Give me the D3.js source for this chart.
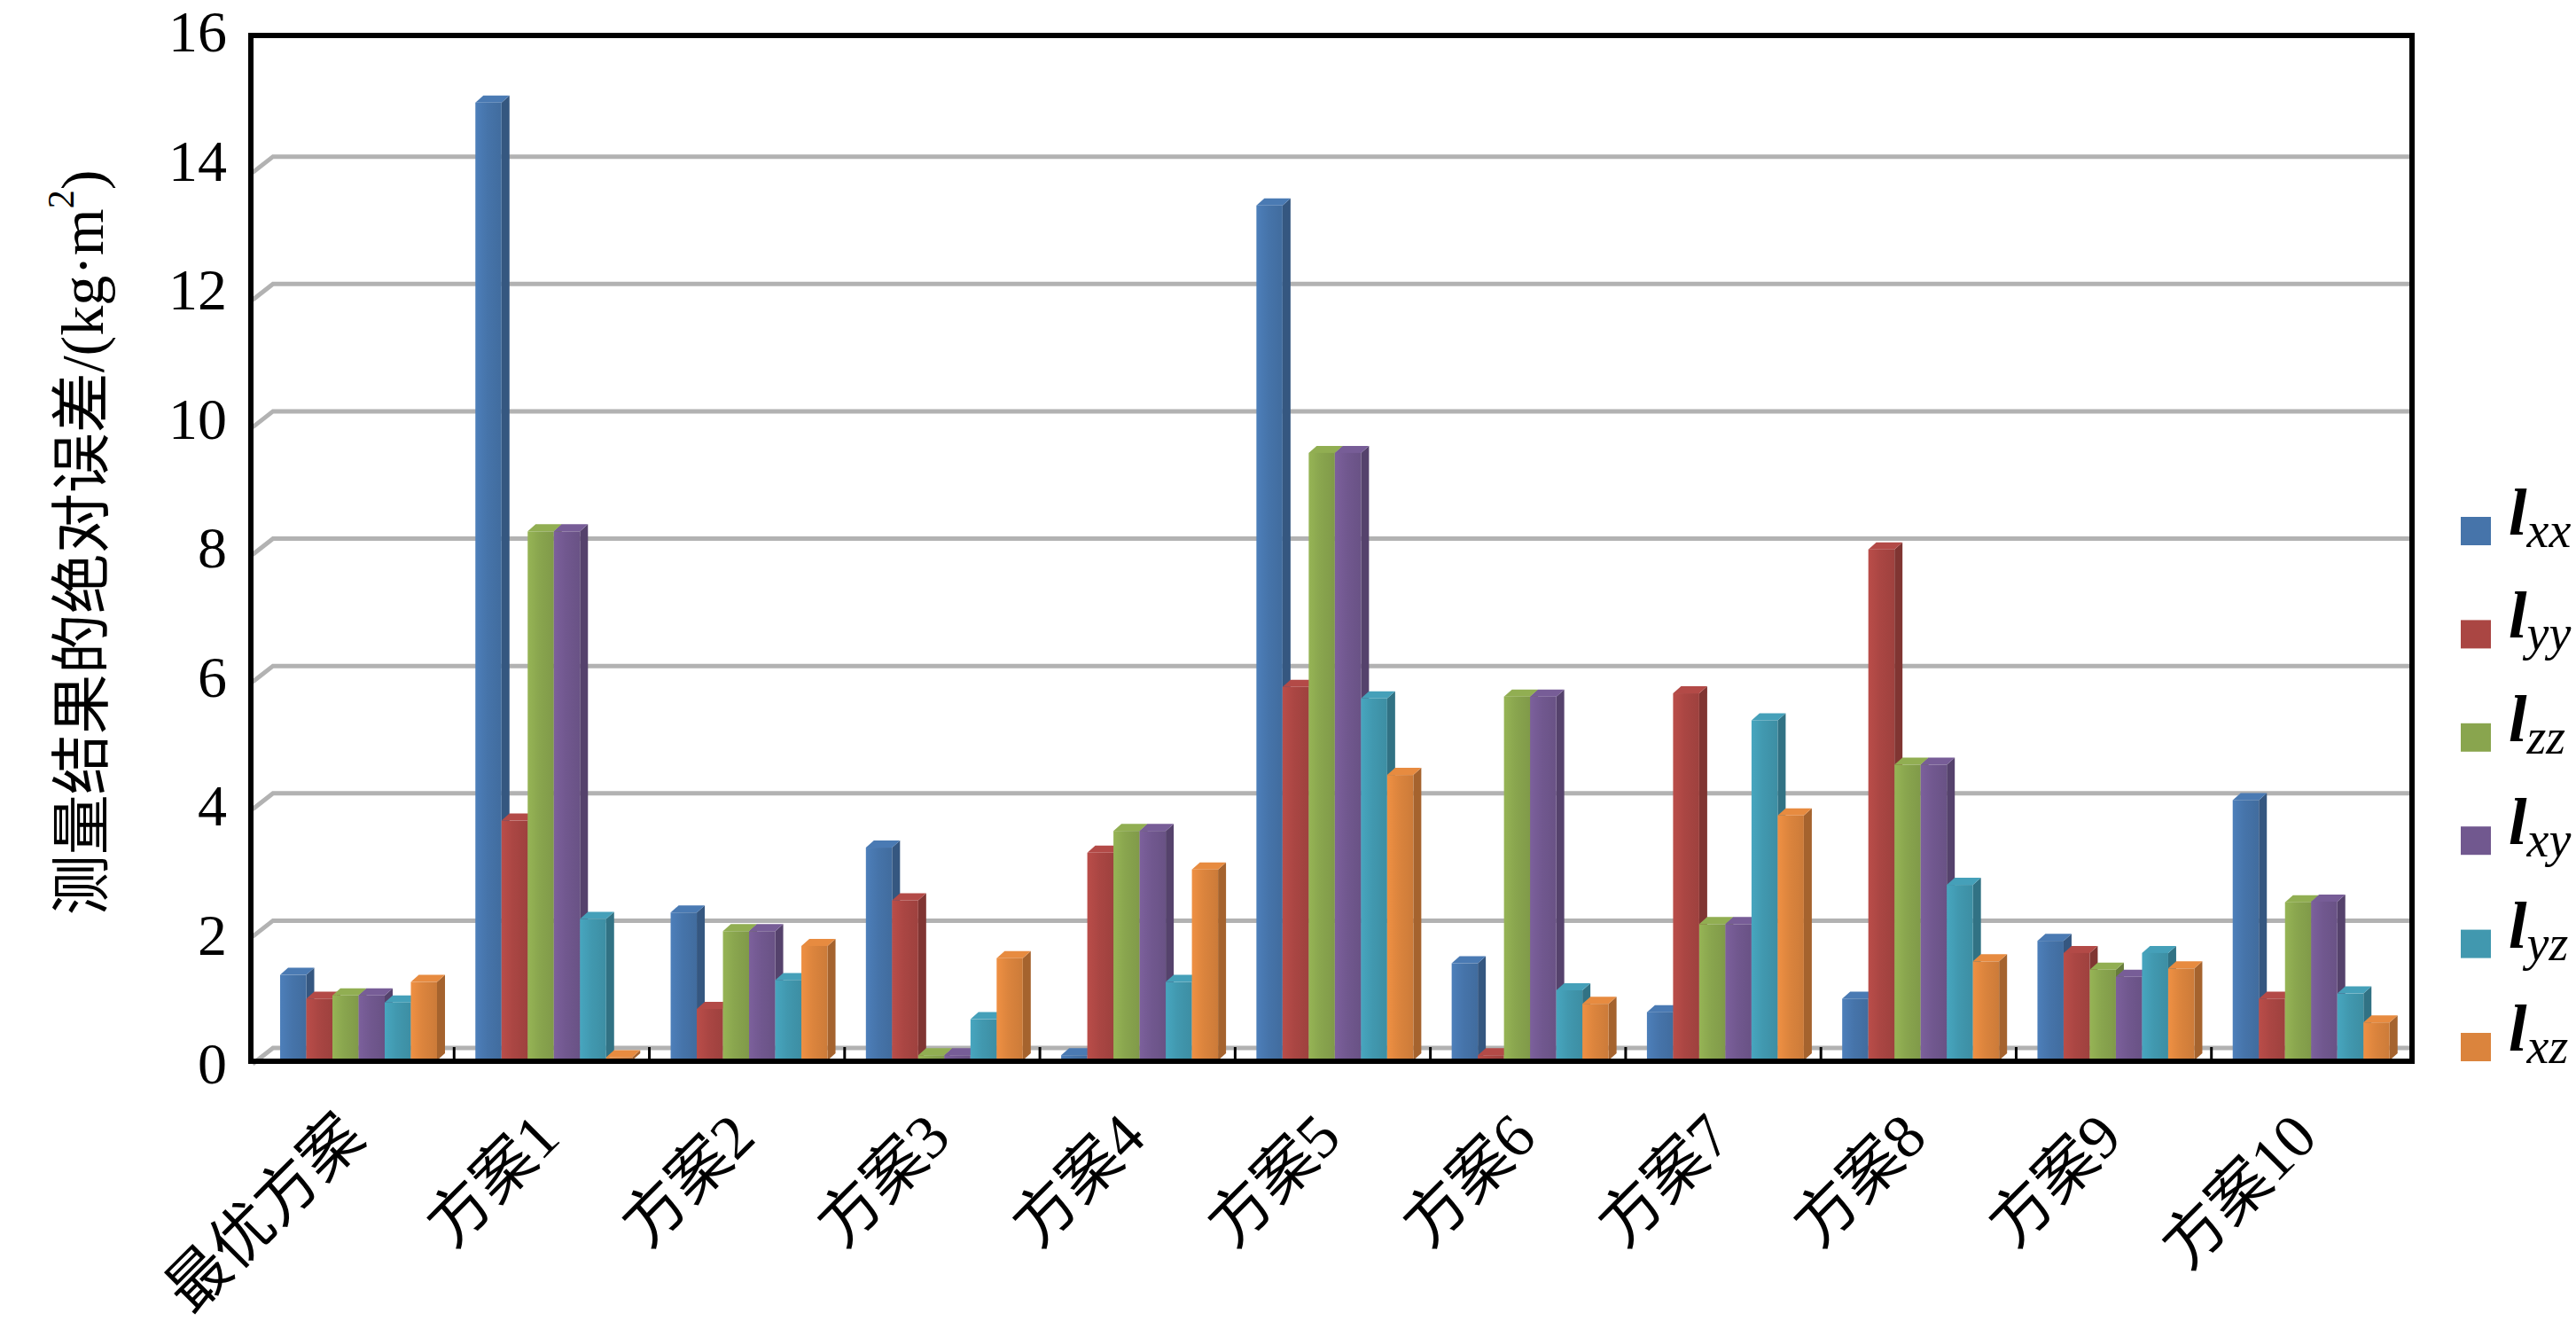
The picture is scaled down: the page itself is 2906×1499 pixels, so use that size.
<!DOCTYPE html>
<html>
<head>
<meta charset="utf-8">
<script src="https://cdn.jsdelivr.net/npm/d3@7"></script>
<style>
  body { margin: 0; background: #fff; }
  svg { display: block; }
</style>
</head>
<body>
<div id="chart"></div>
<script>
// categories and series
var categories = ["最优方案", "方案1", "方案2", "方案3", "方案4", "方案5", "方案6", "方案7", "方案8", "方案9", "方案10"];
var seriesKeys = ["xx", "yy", "zz", "xy", "yz", "xz"];

var lxx = [1.33, 14.9, 2.30, 3.31, 0.08, 13.3, 1.51, 0.75, 0.96, 1.86, 4.05];
var lyy = [0.96, 3.73, 0.80, 2.49, 3.23, 5.81, 0.08, 5.71, 7.95, 1.67, 0.96];
var lzz = [1.01, 8.23, 2.01, 0.08, 3.57, 9.45, 5.66, 2.12, 4.60, 1.41, 2.46];
var lxy = [1.01, 8.23, 2.01, 0.08, 3.57, 9.45, 5.66, 2.12, 4.60, 1.30, 2.47];
var lyz = [0.90, 2.20, 1.25, 0.64, 1.22, 5.63, 1.09, 5.29, 2.73, 1.67, 1.04];
var lxz = [1.22, 0.05, 1.78, 1.59, 2.97, 4.44, 0.88, 3.81, 1.54, 1.43, 0.59];

var yTicks = [0, 2, 4, 6, 8, 10, 12, 14, 16];
var colors = ["#4674aa", "#aa4643", "#89a54e", "#71588f", "#4198af", "#db843d"];

var seriesValues = [lxx, lyy, lzz, lxy, lyz, lxz];

var W = 2906, H = 1499;
var frame = {left: 283, top: 40, right: 2721, bottom: 1197};
var depthX = 9, depthY = 8;

var svg = d3.select("#chart").append("svg")
  .attr("width", W)
  .attr("height", H)
  .attr("viewBox", "0 0 " + W + " " + H);

svg.append("rect").attr("width", W).attr("height", H).attr("fill", "#fff");

var x0 = d3.scaleBand().domain(categories).range([292, 2715]);
var x1 = d3.scaleBand().domain(seriesKeys).range([24, 201]);
var yFront = d3.scaleLinear().domain([0, 16]).range([1196, 36]);
var yWall = d3.scaleLinear().domain([0, 16]).range([1182, 33]);
var yLabel = d3.scaleLinear().domain([0, 16]).range([1199, 35]);

// gradients for the bar fronts
var defs = svg.append("defs");
colors.forEach(function (c, i) {
  var g = defs.append("linearGradient").attr("id", "grad" + i)
    .attr("x1", "0%").attr("x2", "100%").attr("y1", "0%").attr("y2", "0%");
  g.append("stop").attr("offset", "0%").attr("stop-color", d3.color(c).brighter(0.25));
  g.append("stop").attr("offset", "45%").attr("stop-color", c);
  g.append("stop").attr("offset", "100%").attr("stop-color", d3.color(c).darker(0.2));
});

// gridlines on the back wall, with the short slant on the left wall
svg.append("g").classed("grid", true)
  .selectAll("path")
  .data(yTicks.filter(function (d) { return d < 16; }))
  .enter()
  .append("path")
    .attr("d", function (d) {
      var yb = yWall(d);
      return "M" + (frame.left + 2) + "," + (yb + 18) + " L" + (frame.left + 25) + "," + yb + " L" + frame.right + "," + yb;
    })
    .attr("fill", "none")
    .attr("stroke", "#b2b2b2")
    .attr("stroke-width", 5);

// bars
var rows = [];
categories.forEach(function (cat, ci) {
  seriesKeys.forEach(function (k, si) {
    rows.push({cat: cat, key: k, si: si, value: seriesValues[si][ci]});
  });
});

var bars = svg.append("g").classed("bars", true)
  .selectAll("g")
  .data(rows)
  .enter()
  .append("g");

bars.each(function (d) {
  var g = d3.select(this);
  var x = x0(d.cat) + x1(d.key);
  var w = x1.bandwidth();
  var yt = yFront(d.value), yb = yFront(0);
  var base = d3.color(colors[d.si]);

  g.append("path")
    .attr("d", "M" + (x + w) + "," + yt + " l" + depthX + "," + (-depthY) +
               " L" + (x + w + depthX) + "," + (yb - depthY) + " L" + (x + w) + "," + yb + "z")
    .attr("fill", base.darker(0.8));
  g.append("path")
    .attr("d", "M" + x + "," + yt + " l" + depthX + "," + (-depthY) +
               " l" + w + ",0 l" + (-depthX) + "," + depthY + "z")
    .attr("fill", base.brighter(0.15));
  g.append("rect")
    .attr("x", x)
    .attr("y", yt)
    .attr("width", w)
    .attr("height", yb - yt)
    .attr("fill", "url(#grad" + d.si + ")");
});

// plot frame
svg.append("rect")
  .attr("x", frame.left)
  .attr("y", frame.top)
  .attr("width", frame.right - frame.left)
  .attr("height", frame.bottom - frame.top)
  .attr("fill", "none")
  .attr("stroke", "#000")
  .attr("stroke-width", 6);

// category separators on the bottom axis
svg.append("g").classed("xticks", true)
  .selectAll("line")
  .data(categories.slice(1))
  .enter()
  .append("line")
    .attr("x1", function (d) { return x0(d); })
    .attr("x2", function (d) { return x0(d); })
    .attr("y1", frame.bottom)
    .attr("y2", frame.bottom - 16)
    .attr("stroke", "#000")
    .attr("stroke-width", 3);

// y tick labels
var yAxis = svg.append("g")
  .attr("transform", "translate(256,0)")
  .call(d3.axisLeft(yLabel).tickValues(yTicks).tickSize(0).tickPadding(0));
yAxis.select(".domain").remove();
yAxis.selectAll("text")
  .attr("dy", null)
  .attr("dominant-baseline", "central")
  .style("font-family", "'Liberation Serif', serif")
  .style("font-size", "66px")
  .style("fill", "#000");

// category labels
svg.append("g").classed("xlabels", true)
  .selectAll("text")
  .data(categories)
  .enter()
  .append("text")
    .attr("transform", function (d) {
      return "translate(" + (x0(d) + x0.bandwidth() / 2 + 12) + ",1286) rotate(-45)";
    })
    .attr("text-anchor", "end")
    .style("font-family", "'Liberation Serif', 'Noto Sans CJK SC', serif")
    .style("font-size", "70px")
    .text(function (d) { return d; });

// y axis title
var title = svg.append("text")
  .attr("transform", "translate(93,612) rotate(-90)")
  .attr("text-anchor", "middle")
  .attr("dominant-baseline", "central")
  .style("font-family", "'Liberation Serif', 'Noto Sans CJK SC', serif")
  .style("font-size", "68px");
title.append("tspan").text("测量结果的绝对误差/(kg·m");
title.append("tspan").attr("dy", -24).style("font-size", "42px").text("2");
title.append("tspan").attr("dy", 24).text(")");

// legend
var legend = svg.append("g").classed("legend", true)
  .selectAll("g")
  .data(seriesKeys)
  .enter()
  .append("g")
    .attr("transform", function (d, i) { return "translate(0," + (599 + i * 116.4) + ")"; });

legend.append("rect")
  .attr("x", 2776)
  .attr("y", -16)
  .attr("width", 34)
  .attr("height", 32)
  .attr("fill", function (d, i) { return colors[i]; });

var lt = legend.append("text")
  .attr("x", 2830)
  .attr("y", 4)
  .style("font-family", "'Liberation Serif', serif")
  .style("font-style", "italic");
lt.append("tspan").style("font-size", "74px").style("font-weight", "bold").text("l");
lt.append("tspan").attr("dy", 14).style("font-size", "56px").text(function (d) { return d; });
</script>
</body>
</html>
